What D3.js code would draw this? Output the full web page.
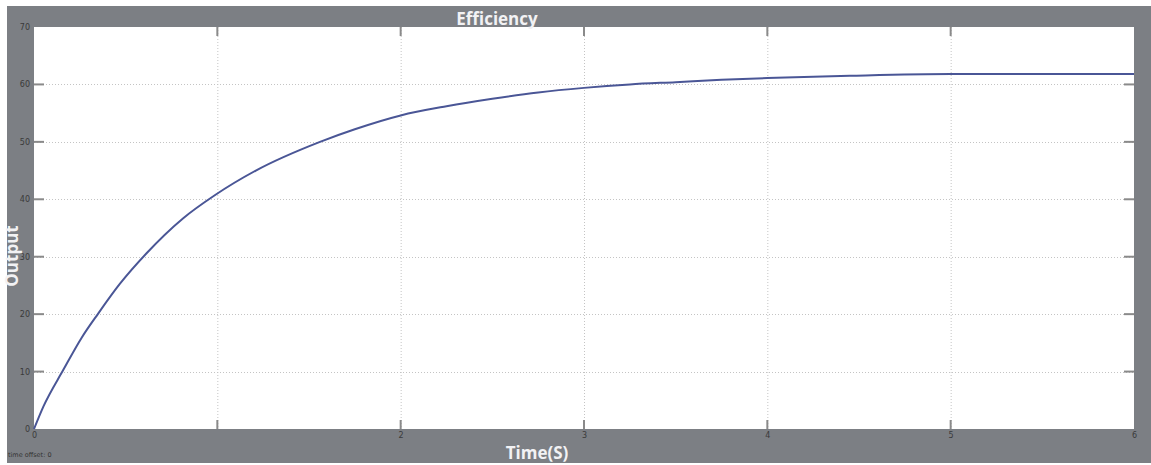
<!DOCTYPE html>
<html><head><meta charset="utf-8">
<script src="https://cdn.jsdelivr.net/npm/d3@7"></script>
<style>body{margin:0;background:#fff;}svg{display:block;}</style>
</head><body>
<svg id="c" width="1151" height="465"></svg>
<script>
const timeS = [0,0.051,0.16,0.26,0.35,0.469,0.614,0.814,0.986,1.21,1.56,1.75,2.0,2.25,2.5,2.75,3.0,3.25,3.5,3.75,4.0,4.45,5.0,5.5,6.0];
const efficiency = [0,3.9,10.3,15.9,20.1,25.3,30.6,36.7,40.7,45.0,50.0,52.2,54.6,56.2,57.5,58.6,59.4,60.0,60.4,60.8,61.1,61.5,61.8,61.8,61.8];
const xTicks = [0,1,2,3,4,5,6];
const xTickLabels = ["0","","2","3","4","5","6"];
const yTicks = [0,10,20,30,40,50,60,70];
const yTickLabels = ["0","10","20","30","40","50","60","70"];
const titleText = "Efficiency", xLabel = "Time(S)", yLabel = "Output", offsetText = "time offset:  0";

const svg = d3.select("#c");
const L=34, R=1134, T=27, B=429;
const x = d3.scaleLinear().domain([0,6]).range([L,R]);
const y = d3.scaleLinear().domain([0,70]).range([B,T]);
const gray = "#7c7f84";

svg.append("rect").attr("x",7).attr("y",6).attr("width",1144).attr("height",457).attr("fill",gray);
svg.append("rect").attr("x",L).attr("y",T).attr("width",R-L).attr("height",B-T).attr("fill","#fff");

// grid
const grid = svg.append("g").attr("stroke","#c4c4c4").attr("stroke-width",1).attr("stroke-dasharray","1,2");
grid.selectAll("line.v").data(xTicks.slice(1,-1)).enter().append("line")
  .attr("x1",d=>x(d)+0.5).attr("x2",d=>x(d)+0.5).attr("y1",T).attr("y2",B);
grid.selectAll("line.h").data(yTicks.slice(1,-1)).enter().append("line")
  .attr("y1",d=>Math.round(y(d))+0.5).attr("y2",d=>Math.round(y(d))+0.5).attr("x1",L).attr("x2",R);

// tick marks
const tk = svg.append("g").attr("stroke","#8a8a8a").attr("stroke-width",2);
xTicks.slice(1,-1).forEach(d=>{
  tk.append("line").attr("x1",x(d)).attr("x2",x(d)).attr("y1",B).attr("y2",B-9);
  tk.append("line").attr("x1",x(d)).attr("x2",x(d)).attr("y1",T).attr("y2",T+9);
});
yTicks.slice(1,-1).forEach(d=>{
  tk.append("line").attr("x1",L).attr("x2",L+10).attr("y1",y(d)).attr("y2",y(d));
  tk.append("line").attr("x1",R).attr("x2",R-10).attr("y1",y(d)).attr("y2",y(d));
});

// axes labels via d3 axes
const xAxis = d3.axisBottom(x).tickValues(xTicks).tickSize(0).tickPadding(3).tickFormat((d,i)=>xTickLabels[i]);
const gx = svg.append("g").attr("transform",`translate(0,${B})`).call(xAxis);
gx.select(".domain").remove();
gx.selectAll("text").attr("fill","#3a3a3a").attr("font-size",8).attr("font-family","DejaVu Sans");
const yAxis = d3.axisLeft(y).tickValues(yTicks).tickSize(0).tickPadding(4).tickFormat((d,i)=>yTickLabels[i]);
const gy = svg.append("g").attr("transform",`translate(${L},0)`).call(yAxis);
gy.select(".domain").remove();
gy.selectAll("text").attr("fill","#3a3a3a").attr("font-size",8).attr("font-family","DejaVu Sans");

// line
const pts = timeS.map((t,i)=>[t,efficiency[i]]);
svg.append("path").datum(pts)
  .attr("d", d3.line().x(d=>x(d[0])).y(d=>y(d[1])).curve(d3.curveMonotoneX))
  .attr("fill","none").attr("stroke","#4a5696").attr("stroke-width",2);

// texts
svg.append("text").attr("x",497).attr("y",25).attr("text-anchor","middle")
  .attr("font-family","Open Sans").attr("font-weight","bold").attr("font-size",17).attr("fill","#f2f2f4").text(titleText);
svg.append("text").attr("x",537).attr("y",459).attr("text-anchor","middle")
  .attr("font-family","Open Sans").attr("font-weight","bold").attr("font-size",17).attr("fill","#f2f2f4").text(xLabel);
svg.append("text").attr("transform","translate(18,256) rotate(-90)").attr("text-anchor","middle")
  .attr("font-family","Open Sans").attr("font-weight","bold").attr("font-size",17).attr("fill","#f2f2f4").text(yLabel);
svg.append("text").attr("x",8).attr("y",457).attr("font-family","DejaVu Sans").attr("font-size",6.5).attr("fill","#333").text(offsetText);
</script>
</body></html>
